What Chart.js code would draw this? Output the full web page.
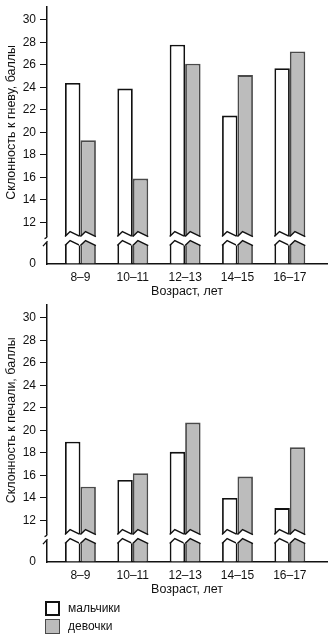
<!DOCTYPE html>
<html>
<head>
<meta charset="utf-8">
<script src="https://cdn.jsdelivr.net/npm/chart.js@4"></script>
<style>
  html, body { margin: 0; padding: 0; background: #fff; }
  body { position: relative; width: 336px; height: 640px; overflow: hidden; }
  .box { position: absolute; left: 0; width: 336px; height: 300px; }
  #legend { position: absolute; left: 45px; top: 599px; font-family: "Liberation Sans", Arial, sans-serif; font-size: 12px; color: #111; }
  .item { display: flex; align-items: center; height: 18px; }
  .sw { width: 15px; height: 15px; box-sizing: border-box; margin-right: 8px; }
</style>
</head>
<body>
<div class="box" style="top:0"><canvas id="c1" width="336" height="300"></canvas></div>
<div class="box" style="top:298px"><canvas id="c2" width="336" height="300"></canvas></div>
<div id="legend"></div>
<script>
// ---- data ----
const categories = ['8–9', '10–11', '12–13', '14–15', '16–17'];
const seriesNames = ['мальчики', 'девочки'];
const angerBoys = [24.4, 23.9, 27.8, 21.5, 25.7];
const angerGirls = [19.3, 15.9, 26.1, 25.1, 27.2];
const sadnessBoys = [19.0, 15.6, 18.1, 14.0, 13.1];
const sadnessGirls = [15.0, 16.2, 20.7, 15.9, 18.5];
const yTicks = [0, 12, 14, 16, 18, 20, 22, 24, 26, 28, 30];
const yTitleAnger = 'Склонность к гневу, баллы';
const yTitleSadness = 'Склонность к печали, баллы';
const xTitle = 'Возраст, лет';

// ---- styles ----
const FONT = '"Liberation Sans", Arial, sans-serif';
const INK = '#111';
const styles = [
  { backgroundColor: '#ffffff', borderColor: '#111111', borderWidth: 1.8 },
  { backgroundColor: '#bcbcbc', borderColor: '#4a4a4a', borderWidth: 1.8 }
];
Chart.defaults.font.family = FONT;
Chart.defaults.color = INK;

// ---- broken linear scale: 0 .. breakAt compressed into `gap` units ----
class BrokenScale extends Chart.LinearScale {
  static id = 'broken';
  static defaults = {};
  toUnits(v) {
    const g = this.options.gap, b = this.options.breakAt;
    return v >= b ? v - b + g : Math.max(v, 0) / b * g;
  }
  getPixelForValue(v) {
    if (v === null || v === undefined || isNaN(v)) return NaN;
    return this.getPixelForDecimal(this.toUnits(v) / this.toUnits(this.max));
  }
  getValueForPixel(p) {
    const g = this.options.gap, b = this.options.breakAt;
    const a = this.getDecimalForPixel(p) * this.toUnits(this.max);
    return a >= g ? a - g + b : a / g * b;
  }
  buildTicks() {
    return (this.options.tickValues || []).map(v => ({ value: v }));
  }
}
Chart.register(BrokenScale);

// ---- zigzag break on bars + y-axis break mark + y title ----
const breakPlugin = {
  id: 'breakPlugin',
  afterDatasetsDraw(chart) {
    const ctx = chart.ctx, ys = chart.scales.y;
    const p0 = ys.getPixelForValue(0), pb = ys.getPixelForValue(ys.options.breakAt);
    const c = p0 + (pb - p0) * 0.6;
    const f = t => t < 0.33 ? 2 - (5 * t / 0.33) : -3 + 5 * (t - 0.33) / 0.67;
    chart.data.datasets.forEach((ds, di) => {
      chart.getDatasetMeta(di).data.forEach(bar => {
        const { x, width } = bar.getProps(['x', 'width'], true);
        const x0 = x - width / 2, x1 = x + width / 2;
        const N = [0, 0.33, 1];
        const top = N.map(t => [x0 + t * width, c - 4.5 + f(t)]);
        const bot = N.map(t => [x0 + t * width, c + 4.5 + f(t)]);
        ctx.save();
        ctx.fillStyle = '#fff';
        ctx.beginPath();
        ctx.moveTo(x0 - 1.5, top[0][1]);
        top.forEach(p => ctx.lineTo(p[0], p[1]));
        ctx.lineTo(x1 + 1.5, top[2][1]);
        ctx.lineTo(x1 + 1.5, bot[2][1]);
        bot.slice().reverse().forEach(p => ctx.lineTo(p[0], p[1]));
        ctx.lineTo(x0 - 1.5, bot[0][1]);
        ctx.closePath();
        ctx.fill();
        ctx.strokeStyle = INK;
        ctx.lineWidth = 1.5;
        ctx.lineJoin = 'miter';
        [top, bot].forEach(line => {
          ctx.beginPath();
          line.forEach((p, i) => i ? ctx.lineTo(p[0], p[1]) : ctx.moveTo(p[0], p[1]));
          ctx.stroke();
        });
        ctx.restore();
      });
    });
  },
  afterDraw(chart) {
    const ctx = chart.ctx, ys = chart.scales.y, L = chart.chartArea.left;
    const p0 = ys.getPixelForValue(0), pb = ys.getPixelForValue(ys.options.breakAt);
    const c = p0 + (pb - p0) * 0.6;
    ctx.save();
    ctx.fillStyle = '#fff';
    ctx.fillRect(L - 3, c - 3, 6, 6);
    ctx.strokeStyle = INK;
    ctx.lineWidth = 1.3;
    ctx.beginPath();
    ctx.moveTo(L, c - 3);
    ctx.quadraticCurveTo(L, c - 1, L - 2.5, c - 0.5);
    ctx.stroke();
    ctx.beginPath();
    ctx.moveTo(L - 4, c + 7);
    ctx.lineTo(L + 0.5, c + 2);
    ctx.stroke();
    // y axis title (rotated), centred on a scale value like the source
    const t = chart.options.plugins.breakPlugin;
    ctx.fillStyle = INK;
    ctx.font = '12.5px ' + FONT;
    ctx.textAlign = 'center';
    ctx.textBaseline = 'middle';
    ctx.translate(t.titleX, ys.getPixelForValue(t.titleAt));
    ctx.rotate(-Math.PI / 2);
    ctx.fillText(t.text, 0, 0);
    ctx.restore();
  }
};

function makeChart(id, boys, girls, yTitle) {
  const sets = [boys, girls];
  return new Chart(document.getElementById(id), {
    type: 'bar',
    data: {
      datasets: sets.map((vals, s) => Object.assign({
        label: seriesNames[s],
        data: vals.map((v, i) => ({ x: i + 1, y: v })),
        borderSkipped: 'start',
        categoryPercentage: 0.59,
        barPercentage: 1.0
      }, styles[s]))
    },
    options: {
      responsive: false,
      devicePixelRatio: 1,
      animation: false,
      events: [],
      layout: { padding: { top: 7, right: 9, bottom: 0, left: 0 } },
      plugins: {
        legend: { display: false }, tooltip: { enabled: false },
        breakPlugin: { text: yTitle, titleX: 12, titleAt: 20.9 }
      },
      scales: {
        x: {
          type: 'linear',
          min: 0.361,
          max: 5.71,
          offset: false,
          grid: { display: false, drawTicks: false, offset: false },
          border: { display: true, color: INK, width: 1.5 },
          afterBuildTicks: s => { s.ticks = categories.map((_, i) => ({ value: i + 1 })); },
          afterFit: s => { s.height = 36; s.paddingLeft = 0; s.paddingRight = 0; },
          ticks: {
            autoSkip: false, maxRotation: 0, padding: 6,
            font: { size: 12 }, color: INK,
            callback: v => categories[v - 1] ?? ''
          },
          title: { display: true, text: xTitle, font: { size: 12.5 }, color: INK, padding: { top: 0, bottom: 1 } }
        },
        y: {
          type: 'broken',
          min: 0,
          max: 31.15,
          breakAt: 12,
          gap: 3.69,
          tickValues: yTicks,
          afterFit: s => { s.width = 47; s.paddingTop = 0; s.paddingBottom = 0; },
          grid: {
            drawOnChartArea: false, drawTicks: true, tickLength: 7,
            color: c => (c.tick && c.tick.value === 0) ? 'rgba(0,0,0,0)' : INK,
            lineWidth: 1
          },
          border: { display: true, color: INK, width: 1.5 },
          ticks: { autoSkip: false, padding: 4, font: { size: 12 }, color: INK, callback: v => String(v) },
          title: { display: false }
        }
      }
    },
    plugins: [breakPlugin]
  });
}

const ch1 = makeChart('c1', angerBoys, angerGirls, yTitleAnger);
const ch2 = makeChart('c2', sadnessBoys, sadnessGirls, yTitleSadness);

// ---- legend from datasets ----
const lg = document.getElementById('legend');
ch2.data.datasets.forEach(ds => {
  const it = document.createElement('div');
  it.className = 'item';
  const sw = document.createElement('div');
  sw.className = 'sw';
  sw.style.background = ds.backgroundColor;
  sw.style.border = (ds.backgroundColor === '#ffffff' ? 2.2 : 1.6) + 'px solid ' + ds.borderColor;
  const tx = document.createElement('span');
  tx.textContent = ds.label;
  it.appendChild(sw); it.appendChild(tx);
  lg.appendChild(it);
});
</script>
</body>
</html>
